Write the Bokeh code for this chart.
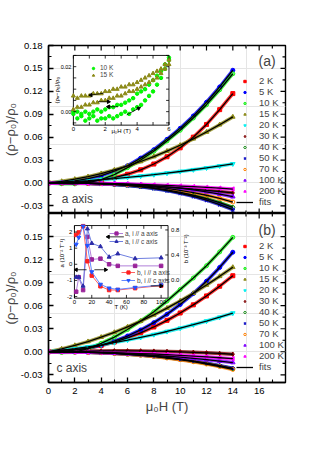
import math
from bokeh.plotting import figure
from bokeh.layouts import column
from bokeh.models import (Range1d, FixedTicker, NumeralTickFormatter, Legend, LegendItem,
                          Label, LinearAxis, Title)
from bokeh.embed import file_html
from bokeh.resources import INLINE
from bokeh.core.properties import value

FONT = "Liberation Sans"

# ---------------- data ----------------
field_H = [0, 1, 2, 3, 4, 5, 6, 7, 8, 9, 10, 11, 12, 13, 14]
temp_labels = ["2 K", "5 K", "10 K", "15 K", "20 K", "30 K", "40 K", "50 K", "70 K", "100 K", "200 K"]

# panel (a): a axis
a_2K = [0, 0.0001, 0.0007, 0.0019, 0.0039, 0.0070, 0.0114, 0.0172, 0.0248, 0.0343, 0.0460, 0.0600, 0.0766, 0.0960, 0.1170]
a_5K = [0, 0.0006, 0.0026, 0.0058, 0.0095, 0.0155, 0.0225, 0.0325, 0.0435, 0.0571, 0.0715, 0.0877, 0.1057, 0.1257, 0.1476]
a_10K = [0, -0.0010, -0.0012, 0.0005, 0.0045, 0.0110, 0.0200, 0.0300, 0.0415, 0.0550, 0.0690, 0.0850, 0.1025, 0.1220, 0.1430]
a_15K = [0, 0.0021, 0.0049, 0.0083, 0.0123, 0.0170, 0.0222, 0.0281, 0.0346, 0.0417, 0.0494, 0.0578, 0.0667, 0.0763, 0.0865]
a_20K = [0, 0.0009, 0.0018, 0.0030, 0.0043, 0.0057, 0.0073, 0.0090, 0.0109, 0.0129, 0.0150, 0.0173, 0.0197, 0.0223, 0.0250]
a_30K = [0, -0.0001, -0.0003, -0.0006, -0.0011, -0.0017, -0.0024, -0.0033, -0.0042, -0.0054, -0.0066, -0.0080, -0.0096, -0.0112, -0.0130]
a_40K = [0, 0.0000, -0.0002, -0.0005, -0.0010, -0.0018, -0.0030, -0.0046, -0.0066, -0.0092, -0.0123, -0.0161, -0.0206, -0.0259, -0.0320]
a_50K = [0, 0.0000, -0.0002, -0.0005, -0.0011, -0.0020, -0.0033, -0.0050, -0.0072, -0.0100, -0.0135, -0.0176, -0.0226, -0.0283, -0.0350]
a_70K = [0, 0.0000, -0.0001, -0.0004, -0.0008, -0.0014, -0.0023, -0.0036, -0.0052, -0.0072, -0.0096, -0.0126, -0.0161, -0.0202, -0.0250]
a_100K = [0, 0.0000, -0.0001, -0.0003, -0.0006, -0.0010, -0.0017, -0.0026, -0.0037, -0.0052, -0.0069, -0.0091, -0.0116, -0.0146, -0.0180]
a_200K = [0, 0.0000, -0.0002, -0.0004, -0.0007, -0.0010, -0.0015, -0.0020, -0.0026, -0.0033, -0.0041, -0.0049, -0.0059, -0.0069, -0.0080]

# panel (b): c axis
c_2K = [0, 0.0020, 0.0030, 0.0045, 0.0081, 0.0126, 0.0182, 0.0247, 0.0323, 0.0409, 0.0505, 0.0611, 0.0727, 0.0853, 0.0990]
c_5K = [0, 0.0005, 0.0021, 0.0048, 0.0087, 0.0139, 0.0205, 0.0284, 0.0379, 0.0489, 0.0615, 0.0758, 0.0919, 0.1098, 0.1296]
c_10K = [0, -0.0008, -0.0005, 0.0040, 0.0110, 0.0190, 0.0290, 0.0400, 0.0520, 0.0660, 0.0810, 0.0960, 0.1120, 0.1300, 0.1490]
c_15K = [0, 0.0038, 0.0083, 0.0133, 0.0190, 0.0253, 0.0323, 0.0398, 0.0480, 0.0568, 0.0662, 0.0762, 0.0869, 0.0982, 0.1100]
c_20K = [0, 0.0019, 0.0040, 0.0064, 0.0091, 0.0120, 0.0152, 0.0187, 0.0224, 0.0264, 0.0307, 0.0352, 0.0400, 0.0450, 0.0504]
c_30K = [0, 0.0003, 0.0006, 0.0009, 0.0011, 0.0012, 0.0012, 0.0011, 0.0008, 0.0004, -0.0001, -0.0007, -0.0014, -0.0022, -0.0032]
c_40K = [0, -0.0001, -0.0003, -0.0007, -0.0012, -0.0020, -0.0031, -0.0043, -0.0059, -0.0077, -0.0098, -0.0123, -0.0152, -0.0184, -0.0220]
c_50K = [0, -0.0001, -0.0003, -0.0007, -0.0012, -0.0020, -0.0030, -0.0042, -0.0057, -0.0075, -0.0096, -0.0121, -0.0148, -0.0180, -0.0215]
c_70K = [0, -0.0001, -0.0003, -0.0007, -0.0013, -0.0021, -0.0032, -0.0045, -0.0061, -0.0081, -0.0103, -0.0129, -0.0159, -0.0192, -0.0230]
c_100K = [0, -0.0001, -0.0003, -0.0006, -0.0011, -0.0018, -0.0026, -0.0035, -0.0046, -0.0058, -0.0071, -0.0086, -0.0103, -0.0121, -0.0140]
c_200K = [0, 0.0000, -0.0002, -0.0004, -0.0007, -0.0011, -0.0017, -0.0023, -0.0029, -0.0037, -0.0046, -0.0056, -0.0066, -0.0078, -0.0090]

# inset (a): low-field loops, 10 K and 15 K
inset_H = [0, 0.25, 0.5, 0.75, 1, 1.25, 1.5, 1.75, 2, 2.25, 2.5, 2.75, 3, 3.25, 3.5, 3.75, 4, 4.25, 4.5, 4.75, 5, 5.25, 5.5, 5.75, 6]
k10_up = [-0.001, -0.003, -0.002, -0.004, -0.003, -0.002, -0.004, -0.003, -0.003, -0.002, -0.003, -0.002, -0.001, 0.000, -0.001, 0.001, 0.002, 0.003, 0.005, 0.007, 0.009, 0.012, 0.015, 0.019, 0.023]
k10_dn = [0.000, 0.000, -0.001, 0.000, -0.001, 0.000, 0.001, 0.000, 0.001, 0.002, 0.002, 0.003, 0.003, 0.004, 0.005, 0.006, 0.008, 0.009, 0.010, 0.012, 0.014, 0.016, 0.018, 0.021, 0.024]
k15_up = [0.001, 0.002, 0.002, 0.003, 0.003, 0.004, 0.004, 0.005, 0.005, 0.006, 0.006, 0.007, 0.007, 0.008, 0.009, 0.009, 0.010, 0.011, 0.012, 0.013, 0.014, 0.015, 0.017, 0.019, 0.021]
k15_dn = [0.007, 0.006, 0.007, 0.007, 0.007, 0.008, 0.008, 0.008, 0.009, 0.009, 0.010, 0.010, 0.011, 0.011, 0.012, 0.012, 0.013, 0.014, 0.015, 0.016, 0.017, 0.018, 0.019, 0.021, 0.023]
# sweep-direction arrows in inset (a): tail (x0, y0) -> head (x1, y1)
arr_a_x0 = [1.9, 1.55, 2.8, 3.35]
arr_a_y0 = [0.0082, 0.0044, 0.0022, -0.0014]
arr_a_x1 = [1.1, 2.2, 2.2, 4.1]
arr_a_y1 = [0.0074, 0.0044, 0.0022, 0.0015]

# inset (b): fit coefficients vs temperature
fit_T = [2, 5, 10, 15, 20, 30, 40, 50, 70, 100]
coef_a_ia = [-1.7, -0.8, -1.6, 1.7, 0.3, 0.35, 0.0, -0.1, -0.1, -0.1]
coef_a_ic = [-0.8, -0.8, -1.35, 2.2, 1.3, 1.1, 0.45, 0.65, 0.35, 0.4]
coef_b_ia = [0.72, 0.76, 0.86, 0.30, 0.07, -0.10, -0.16, -0.16, -0.13, -0.09]
coef_b_ic = [0.57, 0.68, 0.86, 0.55, 0.13, -0.07, -0.13, -0.15, -0.12, -0.08]
arr_b_x0 = [57, 14, 23, 88]
arr_b_x1 = [39, 2, 36, 100]
arr_b_y = [1.7, -0.34, -0.34, -1.34]

# ticks
x_ticks = [0, 2, 4, 6, 8, 10, 12, 14, 16]
x_minor = [1, 3, 5, 7, 9, 11, 13, 15, 17]
ya_ticks = [-0.03, 0.0, 0.03, 0.06, 0.09, 0.12, 0.15, 0.18]
yb_ticks = [-0.03, 0.0, 0.03, 0.06, 0.09, 0.12, 0.15]
y_minor = [-0.015, 0.015, 0.045, 0.075, 0.105, 0.135, 0.165]
X_RANGE = (0, 18)
Y_RANGE = (-0.04, 0.18)

# ---------------- styles ----------------
series_style = [
    dict(color="#FF0000", marker="square", fill="#FF0000", size=4, angle=0),
    dict(color="#0000FF", marker="circle", fill="#0000FF", size=4, angle=0),
    dict(color="#22EE22", marker="circle", fill="#66FF66", size=4, angle=0),
    dict(color="#8C8A18", marker="triangle", fill="#8C8A18", size=4.5, angle=0),
    dict(color="#00EEEE", marker="inverted_triangle", fill="#00FFFF", size=4.5, angle=0),
    dict(color="#800000", marker="diamond", fill="#800000", size=4.5, angle=0),
    dict(color="#008000", marker="hex", fill=None, size=4, angle=0),
    dict(color="#1010C8", marker="star", fill="#1010C8", size=4.5, angle=0),
    dict(color="#FF8000", marker="circle", fill=None, size=4, angle=0),
    dict(color="#8000FF", marker="triangle", fill="#8000FF", size=4.5, angle=0),
    dict(color="#FF00FF", marker="triangle", fill="#FF00FF", size=4.5, angle=math.pi / 2),
]

PX_X = 238 / 18.0      # pixels per tesla
PX_Y = 168 / 0.22      # pixels per unit of (rho-rho0)/rho0


def style_axis(ax):
    ax.major_tick_in = 5
    ax.major_tick_out = 0
    ax.minor_tick_in = 3
    ax.minor_tick_out = 0
    ax.axis_line_width = 1.4
    ax.major_tick_line_width = 1.3
    ax.minor_tick_line_width = 1.1
    ax.axis_line_color = "black"
    ax.major_tick_line_color = "black"
    ax.minor_tick_line_color = "black"
    ax.major_label_text_font = FONT
    ax.major_label_text_font_size = "9.5px"
    ax.major_label_text_color = "black"
    ax.major_label_standoff = 6


def make_panel(height, btop, bbottom, yticks, xlabels, ylab_offset):
    p = figure(width=301, height=height, x_range=Range1d(*X_RANGE), y_range=Range1d(*Y_RANGE),
               output_backend="svg", toolbar_location=None,
               x_axis_location=None, y_axis_location=None,
               min_border_left=47, min_border_right=16,
               min_border_top=btop, min_border_bottom=bbottom)
    p.outline_line_color = "black"
    p.outline_line_width = 1.4
    p.background_fill_color = "white"
    p.border_fill_color = "white"
    ax = LinearAxis(ticker=FixedTicker(ticks=yticks, minor_ticks=y_minor),
                    formatter=NumeralTickFormatter(format="0.00"))
    style_axis(ax)
    p.add_layout(ax, "left")
    p.add_layout(Title(text="(ρ−ρ₀)/ρ₀", align="center", offset=ylab_offset, text_font=FONT,
                       text_font_size="13px", text_font_style="normal", standoff=0), "left")
    if xlabels:
        ax = LinearAxis(ticker=FixedTicker(ticks=x_ticks, minor_ticks=x_minor))
        style_axis(ax)
        ax.major_label_standoff = 5
        p.add_layout(ax, "below")
        p.add_layout(Title(text="μ₀H (T)", align="center", offset=-11, text_font=FONT,
                           text_font_size="13px", text_font_style="normal", standoff=0), "below")
    # inward ticks on the remaining sides
    y0, y1 = Y_RANGE
    x1 = X_RANGE[1]
    for xs, ln in ((x_ticks, 5), (x_minor, 3)):
        p.segment(x0=xs, y0=[y1] * len(xs), x1=xs, y1=[y1 - ln / PX_Y] * len(xs),
                  line_color="black", line_width=1.2)
        if not xlabels:
            p.segment(x0=xs, y0=[y0] * len(xs), x1=xs, y1=[y0 + ln / PX_Y] * len(xs),
                      line_color="black", line_width=1.2)
    for ys, ln in ((ya_ticks, 5), (y_minor, 3)):
        p.segment(x0=[x1] * len(ys), y0=ys, x1=[x1 - ln / PX_X] * len(ys), y1=ys,
                  line_color="black", line_width=1.2)
    return p


def draw_series(p, datasets, legend_loc):
    scat = []
    for ys, st in zip(datasets, series_style):
        p.line(field_H, ys, line_color=st["color"], line_width=3.5, line_alpha=0.8)
    for ys, st in zip(datasets, series_style):
        r = p.scatter(field_H, ys, marker=st["marker"], size=st["size"], angle=st["angle"],
                      line_color=st["color"], fill_color=st["fill"], line_width=1)
        scat.append(r)
    fits = []
    for ys in datasets:
        fits.append(p.line(field_H, ys, line_color="black", line_width=1.3))
    items = [LegendItem(label=lab, renderers=[r]) for lab, r in zip(temp_labels, scat)]
    items.append(LegendItem(label="fits", renderers=[fits[0]]))
    leg = Legend(items=items, location=legend_loc, background_fill_alpha=0,
                 border_line_alpha=0, padding=0, margin=0, spacing=0,
                 glyph_width=17, glyph_height=6, label_height=11, label_standoff=6,
                 label_text_font=FONT, label_text_font_size="9.5px")
    p.add_layout(leg)


def inset_ticks(xy, xs, ys, xt, yt, ylen=0.045, xlen=0.03, left=True, bottom=True, top=True, right=True):
    x0, x1 = xs
    y0, y1 = ys
    dy = (y1 - y0) * ylen
    dx = (x1 - x0) * xlen
    if bottom:
        xy.segment(x0=xt, y0=[y0] * len(xt), x1=xt, y1=[y0 + dy] * len(xt), line_color="black", line_width=0.8)
    if top:
        xy.segment(x0=xt, y0=[y1] * len(xt), x1=xt, y1=[y1 - dy] * len(xt), line_color="black", line_width=0.8)
    if left:
        xy.segment(x0=[x0] * len(yt), y0=yt, x1=[x0 + dx] * len(yt), y1=yt, line_color="black", line_width=0.8)
    if right:
        xy.segment(x0=[x1] * len(yt), y0=yt, x1=[x1 - dx] * len(yt), y1=yt, line_color="black", line_width=0.8)


def draw_arrows(xy, x0, y0, x1, y1, sx, sy):
    xy.segment(x0=x0, y0=y0, x1=x1, y1=y1, line_color="black", line_width=0.8)
    angs = [math.atan2((b1 - b0) * sy, (a1 - a0) * sx) - math.pi / 2 for a0, b0, a1, b1 in zip(x0, y0, x1, y1)]
    xy.scatter(x1, y1, marker="triangle", size=3.5, angle=angs, fill_color="black", line_color="black")


# ---------------- panel (a) ----------------
pa = make_panel(213, 45, 0, ya_ticks, False, 24)
draw_series(pa, [a_2K, a_5K, a_10K, a_15K, a_20K, a_30K, a_40K, a_50K, a_70K, a_100K, a_200K], (188, 6))

ia_x = (0, 6)
ia_y = (-0.006, 0.025)
xa = pa.subplot(x_source=Range1d(*ia_x), y_source=Range1d(*ia_y),
                x_target=Range1d(1.89, 9.15), y_target=Range1d(0.0757, 0.167))
xa.quad(left=[ia_x[0]], right=[ia_x[1]], bottom=[ia_y[0]], top=[ia_y[1]],
        fill_color="white", line_color="black", line_width=0.9)
r10a = xa.scatter(inset_H, k10_up, marker="circle", size=3.5, fill_color="#00FF00", line_color="#00EE00")
xa.scatter(inset_H, k10_dn, marker="circle", size=3.5, fill_color="#00FF00", line_color="#00EE00")
r15a = xa.scatter(inset_H, k15_dn, marker="triangle", size=4, fill_color="#8C8A18", line_color="#8C8A18")
xa.scatter(inset_H, k15_up, marker="triangle", size=4, fill_color="#8C8A18", line_color="#8C8A18")
inset_ticks(xa, ia_x, ia_y, [0, 1, 2, 3, 4, 5, 6], [-0.005, 0.0, 0.005, 0.01, 0.015, 0.02, 0.025])
xa.text(x=[0, 2, 4, 6], y=[ia_y[0]] * 4, text=["0", "2", "4", "6"], text_font=value(FONT),
        text_font_size="6px", text_align="center", text_baseline="top", y_offset=1.5)
xa.text(x=[0, 0], y=[0.0, 0.02], text=["0.00", "0.02"], text_font=value(FONT),
        text_font_size="5.5px", text_align="right", text_baseline="middle", x_offset=-2)
xa.text(x=[3], y=[ia_y[0]], text=["μ₀H (T)"], text_font=value(FONT),
        text_font_size="6px", text_align="center", text_baseline="top", y_offset=2.5)
xa.text(x=[0], y=[0.0095], text=["(ρₐ−ρ₀)/ρ₀"], text_font=value(FONT), angle=math.pi / 2,
        text_font_size="6px", text_align="center", text_baseline="bottom", x_offset=-13)
draw_arrows(xa, arr_a_x0, arr_a_y0, arr_a_x1, arr_a_y1, 96 / 6.0, 70 / 0.031)
leg_ia = Legend(items=[LegendItem(label="10 K", renderers=[r10a]), LegendItem(label="15 K", renderers=[r15a])],
                location=(41, 135), background_fill_alpha=0, border_line_alpha=0, padding=0, margin=0,
                spacing=0, glyph_width=8, glyph_height=6, label_height=7, label_standoff=3,
                label_text_font=FONT, label_text_font_size="6.5px")
pa.add_layout(leg_ia)

pa.add_layout(Label(x=16.6, y=0.160, text="(a)", text_align="center", text_baseline="middle",
                    text_font=FONT, text_font_size="14px"))
pa.add_layout(Label(x=1.0, y=-0.021, text="a axis", text_align="left", text_baseline="middle",
                    text_font=FONT, text_font_size="12px"))

# ---------------- panel (b) ----------------
pb = make_panel(209, 0, 40, yb_ticks, True, 13)
draw_series(pb, [c_2K, c_5K, c_10K, c_15K, c_20K, c_30K, c_40K, c_50K, c_70K, c_100K, c_200K], (188, 10))

ib_x = (0, 108)
ib_ya = (-2.1, 2.4)
ib_yb = (-0.29, 0.87)
tx = Range1d(1.97, 9.08)
ty = Range1d(0.0698, 0.1643)
xb = pb.subplot(x_source=Range1d(*ib_x), y_source=Range1d(*ib_ya), x_target=tx, y_target=ty)
xb2 = pb.subplot(x_source=Range1d(*ib_x), y_source=Range1d(*ib_yb), x_target=tx, y_target=ty)
xb.quad(left=[ib_x[0]], right=[ib_x[1]], bottom=[ib_ya[0]], top=[ib_ya[1]],
        fill_color="white", line_color="black", line_width=0.9)
l1 = xb.line(fit_T, coef_a_ia, line_color="#B07FD8", line_width=1)
s1 = xb.scatter(fit_T, coef_a_ia, marker="square", size=3.5, fill_color="#992299", line_color="#992299")
l2 = xb.line(fit_T, coef_a_ic, line_color="#6F7FE0", line_width=1)
s2 = xb.scatter(fit_T, coef_a_ic, marker="triangle", size=4, fill_color="#2B2BA8", line_color="#2B2BA8")
l3 = xb2.line(fit_T, coef_b_ia, line_color="#FF6060", line_width=1)
s3 = xb2.scatter(fit_T, coef_b_ia, marker="square", size=3.5, fill_color="#FF2020", line_color="#FF2020")
l4 = xb2.line(fit_T, coef_b_ic, line_color="#6688FF", line_width=1)
s4 = xb2.scatter(fit_T, coef_b_ic, marker="inverted_triangle", size=4, fill_color="#2255FF", line_color="#2255FF")
inset_ticks(xb, ib_x, ib_ya, [0, 20, 40, 60, 80, 100], [-2, -1, 0, 1, 2], right=False)
inset_ticks(xb2, ib_x, ib_yb, [], [0.0, 0.4, 0.8], left=False, top=False, bottom=False)
xb.text(x=[0, 20, 40, 60, 80, 100], y=[ib_ya[0]] * 6, text=["0", "20", "40", "60", "80", "100"],
        text_font=value(FONT), text_font_size="6px", text_align="center", text_baseline="top", y_offset=1.5)
xb.text(x=[0] * 5, y=[-2, -1, 0, 1, 2], text=["-2", "-1", "0", "1", "2"], text_font=value(FONT),
        text_font_size="6px", text_align="right", text_baseline="middle", x_offset=-2)
xb2.text(x=[ib_x[1]] * 3, y=[0.0, 0.4, 0.8], text=["0.0", "0.4", "0.8"], text_font=value(FONT),
         text_font_size="6px", text_align="left", text_baseline="middle", x_offset=3)
xb.text(x=[54], y=[ib_ya[0]], text=["T (K)"], text_font=value(FONT),
        text_font_size="6px", text_align="center", text_baseline="top", y_offset=6)
xb.text(x=[0], y=[0.7], text=["a (10⁻² T⁻¹)"], text_font=value(FONT), angle=math.pi / 2,
        text_font_size="6px", text_align="center", text_baseline="bottom", x_offset=-9)
xb2.text(x=[ib_x[1]], y=[0.5], text=["b (10⁻³ T⁻²)"], text_font=value(FONT), angle=math.pi / 2,
         text_font_size="6px", text_align="center", text_baseline="top", x_offset=15)
draw_arrows(xb, arr_b_x0, arr_b_y, arr_b_x1, arr_b_y, 94 / 108.0, 72.5 / 4.5)
leg_b1 = Legend(items=[LegendItem(label="a, i // a axis", renderers=[l1, s1]),
                       LegendItem(label="a, i // c axis", renderers=[l2, s2])],
                location=(61, 137), background_fill_alpha=0, border_line_alpha=0, padding=0, margin=0,
                spacing=0, glyph_width=14, glyph_height=8, label_height=8, label_standoff=2,
                label_text_font=FONT, label_text_font_size="6.5px")
leg_b2 = Legend(items=[LegendItem(label="b, i // a axis", renderers=[l3, s3]),
                       LegendItem(label="b, i // c axis", renderers=[l4, s4])],
                location=(73, 98), background_fill_alpha=0, border_line_alpha=0, padding=0, margin=0,
                spacing=0, glyph_width=14, glyph_height=8, label_height=8, label_standoff=2,
                label_text_font=FONT, label_text_font_size="6.5px")
pb.add_layout(leg_b1)
pb.add_layout(leg_b2)

pb.add_layout(Label(x=16.6, y=0.158, text="(b)", text_align="center", text_baseline="middle",
                    text_font=FONT, text_font_size="14px"))
pb.add_layout(Label(x=0.6, y=-0.0205, text="c axis", text_align="left", text_baseline="middle",
                    text_font=FONT, text_font_size="12px"))

layout = column(pa, pb, spacing=0)
open("out.html", "w").write(file_html(layout, INLINE))
